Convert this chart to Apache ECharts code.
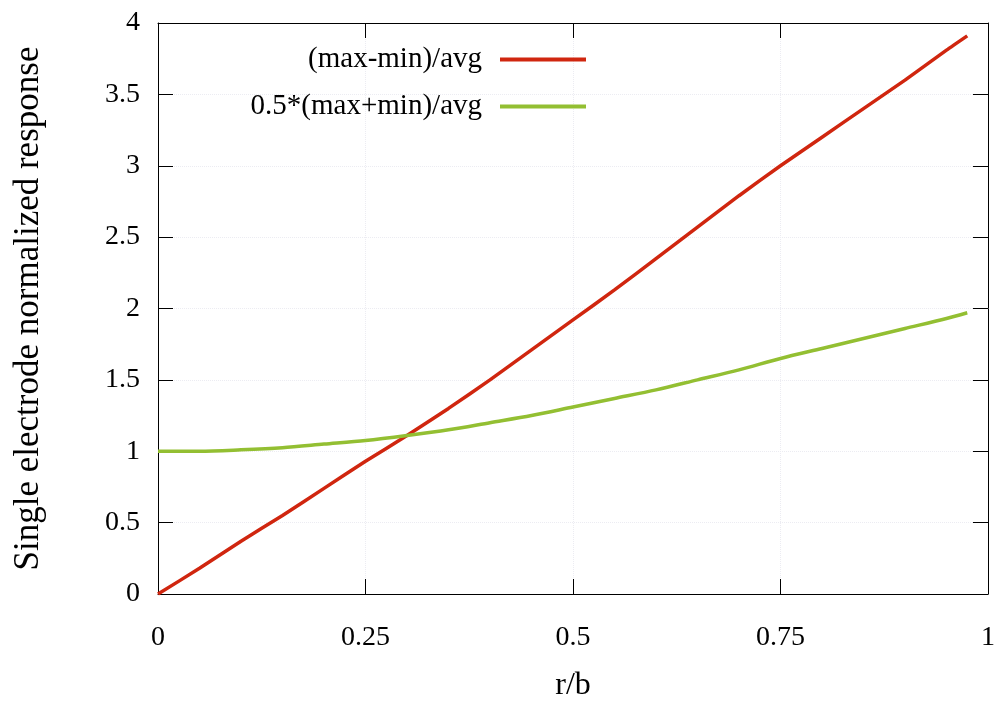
<!DOCTYPE html>
<html lang="en">
<head>
  <meta charset="UTF-8">
  <title>Single electrode normalized response</title>
  <style>
    html, body { margin: 0; padding: 0; background: #fff; }
    #chart { width: 999px; height: 725px; }
  </style>
  <script src="https://cdn.jsdelivr.net/npm/echarts@6/dist/echarts.min.js"></script>
</head>
<body>
  <div id="chart"></div>
<script>
  // r/b sample positions
  var rb = [0, 0.05, 0.1, 0.15, 0.2, 0.25, 0.3, 0.35, 0.4, 0.45, 0.5,
            0.55, 0.6, 0.65, 0.7, 0.75, 0.8, 0.85, 0.9, 0.95, 0.975];
  // (max-min)/avg
  var diffAvg = [0, 0.18, 0.37, 0.55, 0.74, 0.93, 1.11, 1.30, 1.50, 1.71, 1.92,
                 2.13, 2.35, 2.57, 2.79, 3.00, 3.20, 3.40, 3.60, 3.81, 3.91];
  // 0.5*(max+min)/avg
  var meanAvg = [1.0, 1.0, 1.01, 1.025, 1.05, 1.075, 1.11, 1.15, 1.2, 1.25, 1.31,
                 1.37, 1.43, 1.5, 1.57, 1.65, 1.72, 1.79, 1.86, 1.93, 1.97];
  var seriesNames = ['(max-min)/avg', '0.5*(max+min)/avg'];
  var xTicks = ['0', '0.25', '0.5', '0.75', '1'];

  function pairs(ys) {
    return rb.map(function (x, i) { return [x, ys[i]]; });
  }

  var serif = '"Liberation Serif", "DejaVu Serif", serif';
  var tick = { show: true, inside: true, length: 15, lineStyle: { color: '#000' } };
  var grid = { show: true, lineStyle: { color: '#ececf2', type: 'dotted', width: 1 } };
  var legendText = { fontFamily: serif, fontSize: 29, color: '#000', padding: [0, 13, 0, 0] };

  var myChart = echarts.init(document.getElementById('chart'));
  var option = {
    backgroundColor: '#fff',
    animation: false,
    grid: { left: 158, right: 11, top: 23, bottom: 131, containLabel: false, outerBoundsMode: 'none' },
    legend: [
      {
        data: [seriesNames[0]],
        right: 413, top: 45, padding: 0,
        align: 'right',
        icon: 'rect', itemWidth: 86, itemHeight: 4,
        textStyle: legendText
      },
      {
        data: [seriesNames[1]],
        right: 413, top: 92, padding: 0,
        align: 'right',
        icon: 'rect', itemWidth: 86, itemHeight: 4,
        textStyle: legendText
      }
    ],
    xAxis: [
      {
        type: 'value', min: 0, max: 1, interval: 0.25,
        name: 'r/b', nameLocation: 'middle', nameGap: 76,
        nameTextStyle: { fontFamily: serif, fontSize: 32, color: '#000' },
        axisLine: { show: true, onZero: false, lineStyle: { color: '#000', width: 1 } },
        axisTick: tick,
        axisLabel: {
          fontFamily: serif, fontSize: 28, color: '#000', margin: 30,
          formatter: function (v) { return xTicks[Math.round(v / 0.25)]; }
        },
        splitLine: grid
      },
      {
        type: 'value', min: 0, max: 1, interval: 0.25, position: 'top',
        axisLine: { show: true, onZero: false, lineStyle: { color: '#000', width: 1 } },
        axisTick: tick,
        axisLabel: { show: false },
        splitLine: { show: false }
      }
    ],
    yAxis: [
      {
        type: 'value', min: 0, max: 4, interval: 0.5,
        name: 'Single electrode normalized response', nameLocation: 'middle', nameGap: 112,
        nameTextStyle: { fontFamily: serif, fontSize: 35, color: '#000' },
        axisLine: { show: true, onZero: false, lineStyle: { color: '#000', width: 1 } },
        axisTick: tick,
        axisLabel: { fontFamily: serif, fontSize: 28, color: '#000', margin: 18 },
        splitLine: grid
      },
      {
        type: 'value', min: 0, max: 4, interval: 0.5, position: 'right',
        axisLine: { show: true, onZero: false, lineStyle: { color: '#000', width: 1 } },
        axisTick: tick,
        axisLabel: { show: false },
        splitLine: { show: false }
      }
    ],
    series: [
      {
        name: seriesNames[0], type: 'line', smooth: 0.2,
        showSymbol: false, data: pairs(diffAvg),
        itemStyle: { color: '#d0260f' },
        lineStyle: { color: '#d0260f', width: 3.5 }
      },
      {
        name: seriesNames[1], type: 'line', smooth: 0.3,
        showSymbol: false, data: pairs(meanAvg),
        itemStyle: { color: '#93bf32' },
        lineStyle: { color: '#93bf32', width: 3.5 }
      }
    ]
  };
  myChart.setOption(option);
</script>
</body>
</html>
